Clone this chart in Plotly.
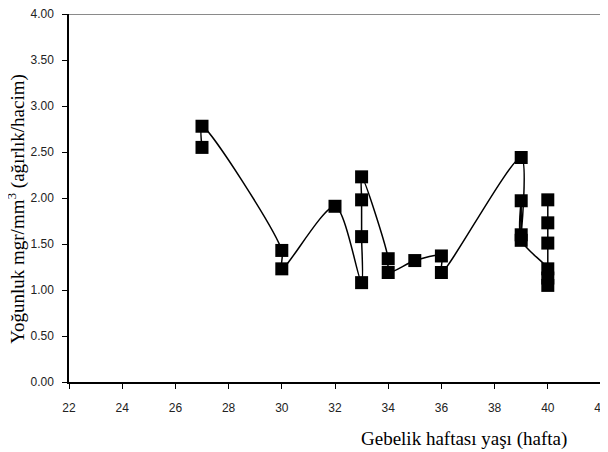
import plotly.graph_objects as go

# Gestational week (x) and density values (y), in drawing order
weeks = [27, 27, 30, 30, 32, 33, 33, 33, 33, 34, 34, 35, 36, 36,
         39, 39, 39, 39, 40, 40, 40, 40, 40, 40]
density = [2.55, 2.78, 1.43, 1.23, 1.91, 1.08, 1.58, 1.98, 2.23, 1.34, 1.19, 1.32, 1.37, 1.19,
           2.44, 1.60, 1.97, 1.54, 1.23, 1.13, 1.05, 1.51, 1.73, 1.98]

x_ticks = [22, 24, 26, 28, 30, 32, 34, 36, 38, 40, 42]
y_ticks = [0.0, 0.5, 1.0, 1.5, 2.0, 2.5, 3.0, 3.5, 4.0]
x_range = [22, 42]
y_range = [0, 4]

fig = go.Figure()
# gray top/right frame of the plot area, following the axis ranges
fig.add_trace(go.Scatter(
    x=[x_range[0], x_range[1], x_range[1]], y=[y_range[1], y_range[1], y_range[0]],
    mode="lines", line=dict(color="#8a8a8a", width=2), showlegend=False,
    hoverinfo="skip", cliponaxis=False,
))
fig.add_trace(go.Scatter(
    x=weeks, y=density, mode="lines+markers",
    line=dict(color="black", width=1.5, shape="spline", smoothing=0.8),
    marker=dict(symbol="square", size=13, color="black"),
    showlegend=False, cliponaxis=False,
))

tick_font = dict(family="Liberation Sans, Arial, sans-serif", size=12, color="#222222")
fig.update_layout(
    xaxis=dict(range=x_range, tickvals=x_ticks, ticktext=[str(v) for v in x_ticks],
               showgrid=False, zeroline=False, showline=True, linecolor="black", linewidth=1.5,
               ticks="outside", ticklen=5, tickcolor="black", tickfont=tick_font,
               ticklabelstandoff=9, automargin=False, ticklabeloverflow="allow"),
    yaxis=dict(range=y_range, tickvals=y_ticks, ticktext=[f"{v:.2f}" for v in y_ticks],
               showgrid=False, zeroline=False, showline=True, linecolor="black", linewidth=1.5,
               ticks="outside", ticklen=5, tickcolor="black", tickfont=tick_font,
               ticklabelstandoff=6, automargin=False, ticklabeloverflow="allow"),
)

title_font = dict(family="Liberation Serif, Times New Roman, serif", size=19, color="black")
fig.add_annotation(text="Yoğunluk mgr/mm<sup>3</sup> (ağırlık/hacim)", xref="paper", yref="paper",
                   x=-0.10, y=0.47, xanchor="center", yanchor="middle", textangle=-90,
                   showarrow=False, font=title_font)
fig.add_annotation(text="Gebelik haftası yaşı (hafta)", xref="paper", yref="paper",
                   x=0.743, y=-0.155, xanchor="center", yanchor="middle",
                   showarrow=False, font=title_font)

# page body has an 8px margin, so the plot area is offset to land at the reference position
fig.update_layout(width=608, height=452, margin=dict(l=61, r=15, t=6, b=78, autoexpand=False),
                  plot_bgcolor="white", paper_bgcolor="white")
fig.write_html("out.html")
